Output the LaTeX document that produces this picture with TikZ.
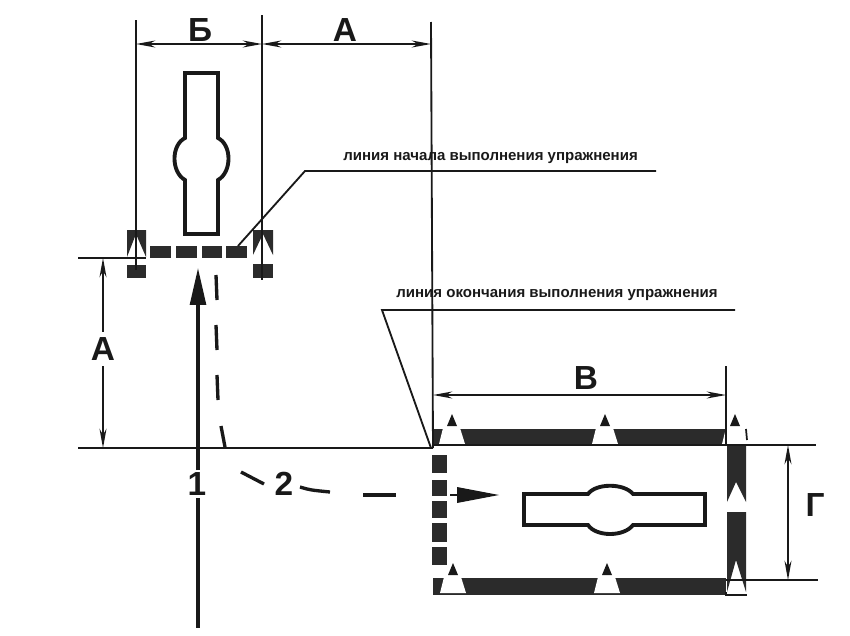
\documentclass[tikz,border=0pt]{standalone}
\usepackage{fontspec}
\setmainfont{Liberation Sans}
\usetikzlibrary{arrows.meta}
\definecolor{inkdark}{rgb}{0.1,0.1,0.1}
\definecolor{bandgray}{rgb}{0.17,0.17,0.17}
\tikzset{thinline/.style={draw=inkdark,line width=1.05pt},
  dimline/.style={thinline,{Stealth[length=11pt,width=4pt]}-{Stealth[length=11pt,width=4pt]}},
  pinline/.style={draw=inkdark,line width=2.2pt},
  dashpiece/.style={draw=inkdark,line width=1.9pt},
  bigtext/.style={font=\bfseries\fontsize{19}{19}\selectfont,text=inkdark,inner sep=0pt},
  smalltext/.style={font=\bfseries\fontsize{8.55}{9}\selectfont,text=inkdark,inner sep=0pt},
  blockfill/.style={fill=bandgray,draw=none}
}
\newcommand{\markcone}[2]{
  \fill[white] (#1,#2-21) -- (#1+8,#2-16) -- (#1+13,#2) -- (#1-13,#2) -- (#1-9,#2-16) -- cycle;
  \fill[inkdark] (#1,#2-30) -- (#1+5,#2-18) -- (#1-5,#2-18) -- cycle;
}
\begin{document}
\begin{tikzpicture}[x=0.02cm,y=-0.02cm]
\useasboundingbox (0,0) rectangle (850,636);
\coordinate (dimBa) at (136,44);
\coordinate (dimBb) at (262,44);
\coordinate (dimAb) at (431,44);
\coordinate (dimVa) at (433,395);
\coordinate (dimVb) at (726,395);
\coordinate (dimGa) at (788,445);
\coordinate (dimGb) at (788,580);
\coordinate (dimLa) at (103,258);
\coordinate (dimLb) at (103,448);
% vertical barbell
\draw[pinline] (185,73) -- (218,73) -- (218,138) .. controls (232,145) and (232,172) .. (218,180) -- (218,234) -- (185,234) -- (185,180) .. controls (171,172) and (171,145) .. (185,138) -- cycle;
% horizontal barbell
\draw[pinline] (524,494) -- (588,494) .. controls (596,483) and (624,483) .. (633,494) -- (705,494) -- (705,525) -- (633,525) .. controls (624,537) and (596,537) .. (588,525) -- (524,525) -- cycle;
% start line
\fill[blockfill] (150,246) rectangle (171,258);
\fill[blockfill] (176,246) rectangle (197,258);
\fill[blockfill] (202,246) rectangle (222,258);
\fill[blockfill] (226,246) rectangle (247,258);
\fill[blockfill] (127,265) rectangle (146,278);
\fill[blockfill] (253,264) rectangle (273,278);
\fill[blockfill] (127,230) -- (146,230) -- (146,257) -- (136,234) -- (127,257) -- cycle;
\fill[blockfill] (253,230) -- (273,230) -- (273,255) -- (263,234) -- (253,255) -- cycle;
% field
\fill[blockfill] (433,429) rectangle (726,445);
\fill[blockfill] (433,578) rectangle (726,595);
\fill[blockfill] (727,445) -- (746,445) -- (746,502) -- (736,482) -- (727,502) -- cycle;
\fill[blockfill] (727,512) -- (746,512) -- (746,592) -- (736,560) -- (727,592) -- cycle;
\draw[thinline] (726,592) -- (726,595) -- (747,595);
\markcone{452}{444}
\markcone{605}{444}
\markcone{735}{444}
\markcone{453}{593}
\markcone{607}{593}
\draw[draw=inkdark,line width=1pt] (746,429) -- (747,440);
\fill[blockfill] (432,455) rectangle (447,473);
\fill[blockfill] (432,480) rectangle (447,496);
\fill[blockfill] (432,501) rectangle (447,518);
\fill[blockfill] (432,523) rectangle (447,542);
\fill[blockfill] (432,547) rectangle (447,565);
% extension lines
\draw[thinline] (136,20) -- (136,270);
\draw[thinline] (262,15) -- (262,280);
\draw[thinline] (431,22) -- (433,448);
\draw[thinline] (726,366) -- (726,445);
\draw[thinline] (78,258) -- (146,258);
\draw[draw=inkdark,line width=1.3pt] (78,448) -- (433,448);
\draw[draw=inkdark,line width=1.3pt] (433,445) -- (816,445);
\draw[draw=inkdark,line width=1.3pt] (726,580) -- (818,580);
% dimensions
\draw[dimline] (dimBa) -- (dimBb);
\draw[dimline] (dimBb) -- (dimAb);
\draw[dimline] (dimVa) -- (dimVb);
\draw[dimline] (dimGa) -- (dimGb);
\draw[dimline] (dimLa) -- (dimLb);
\node[bigtext] (labB) at (200,30) {Б};
\node[bigtext] (labAt) at (345,30) {А};
\node[bigtext,fill=white,inner ysep=3pt] (labAl) at (103,349) {А};
\node[bigtext] (labV) at (586,378) {В};
\node[bigtext] (labG) at (815,505) {Г};
% leaders
\node[smalltext,anchor=west] (startText) at (343,158) {линия начала выполнения упражнения};
\node[smalltext,anchor=west] (endText) at (396,295) {линия окончания выполнения упражнения};
\coordinate (startKnee) at (305,171);
\coordinate (endKnee) at (382,310);
\draw[thinline] (238,246) -- (startKnee) -- (656,171);
\draw[thinline] (431,448) -- (endKnee) -- (735,310);
% run 1
\node[bigtext] (runA) at (197,484) {1};
\draw[draw=inkdark,line width=1.8pt,-{Triangle[length=21pt,width=9pt]}] (198,470) -- (198,268);
\draw[draw=inkdark,line width=1.8pt] (198,498) -- (198,628);
% run 2
\node[bigtext] (runB) at (284,484) {2};
\draw[dashpiece] (216,275) -- (217,300);
\draw[dashpiece] (216,325) -- (217,350);
\draw[dashpiece] (217,375) -- (218,400);
\draw[dashpiece] (221,426) -- (225,447);
\draw[dashpiece] (241,472) -- (264,484);
\draw[dashpiece] (300,487) .. controls (310,490) .. (330,492);
\draw[dashpiece] (363,495) -- (396,495);
\fill[inkdark] (457,487) -- (499,495) -- (457,503) -- cycle;
\draw[draw=inkdark,line width=1pt] (450,495) -- (457,495);
\end{tikzpicture}
\end{document}
